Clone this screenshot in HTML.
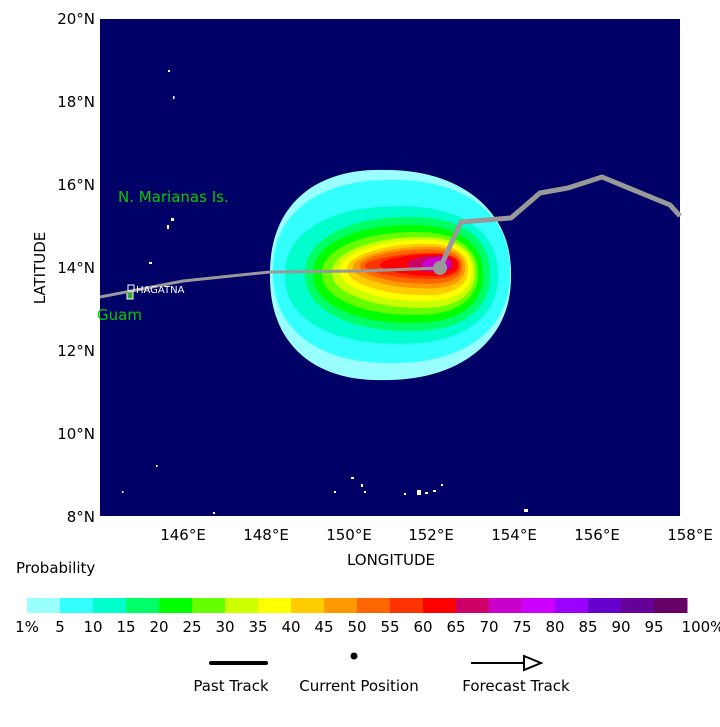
<!DOCTYPE html>
<html><head><meta charset="utf-8"><style>
body{margin:0;background:#fff;width:720px;height:727px;overflow:hidden;font-family:"DejaVu Sans","Liberation Sans",sans-serif}
svg{position:absolute;left:0;top:0}
</style></head><body>
<svg id="s" width="720" height="727" xmlns="http://www.w3.org/2000/svg" font-family="DejaVu Sans, Liberation Sans, sans-serif">
<rect x="100" y="19" width="580" height="497" fill="#000066"/>
<g id="blob"></g>
<g fill="#fff">
<rect x="168" y="70" width="2" height="2"/><rect x="173" y="96" width="1.5" height="3"/>
<rect x="171" y="218" width="3" height="3"/><rect x="167" y="225" width="2" height="4"/>
<rect x="149" y="262" width="3" height="2"/><rect x="156" y="465" width="1.5" height="2"/>
<rect x="122" y="491" width="1.5" height="2"/><rect x="351" y="477" width="3" height="2"/>
<rect x="334" y="491" width="2" height="2"/><rect x="361" y="484" width="2" height="3"/>
<rect x="364" y="491" width="2" height="2"/><rect x="404" y="493" width="2" height="2"/>
<rect x="417" y="490" width="4" height="5"/><rect x="425" y="492" width="3" height="2"/>
<rect x="433" y="490" width="3" height="2"/><rect x="441" y="484" width="2" height="2"/>
<rect x="524" y="509" width="4" height="3"/><rect x="213" y="512" width="2" height="2"/>
</g>
<rect x="127" y="292" width="6" height="7" fill="#33aa33" stroke="#fff" stroke-width="1"/>
<polyline points="100,297 183,281 270,272 360,271 440,268" fill="none" stroke="#999" stroke-width="3"/>
<polyline points="440,268 461,222 511,218 540,193 568,188 602,177 670,205 680,216" fill="none" stroke="#999" stroke-width="5"/>
<circle cx="440" cy="268" r="7" fill="#999"/>
<rect x="128" y="285" width="6" height="6" fill="none" stroke="#fff" stroke-width="1"/>
<text x="136" y="293" font-size="10" fill="#fff">HAGATNA</text>
<text x="118" y="202" font-size="15" fill="#00cc00">N. Marianas Is.</text>
<text x="97" y="320" font-size="15" fill="#00cc00">Guam</text>
<g font-size="15" fill="#000" text-anchor="end">
<text x="95" y="24">20°N</text><text x="95" y="107">18°N</text><text x="95" y="190">16°N</text>
<text x="95" y="273">14°N</text><text x="95" y="356">12°N</text><text x="95" y="439">10°N</text><text x="95" y="522">8°N</text>
</g>
<g font-size="15" fill="#000" text-anchor="middle">
<text x="183" y="540">146°E</text><text x="266" y="540">148°E</text><text x="349" y="540">150°E</text>
<text x="431" y="540">152°E</text><text x="514" y="540">154°E</text><text x="597" y="540">156°E</text><text x="690" y="540">158°E</text>
<text x="391" y="565">LONGITUDE</text>
<text transform="translate(45,268) rotate(-90)">LATITUDE</text>
</g>
<text x="16" y="573" font-size="15">Probability</text>
<g id="cb"></g>
<line x1="211" y1="663" x2="266" y2="663" stroke="#000" stroke-width="4" stroke-linecap="round"/>
<circle cx="354" cy="656" r="3.5" fill="#000"/>
<line x1="471" y1="663" x2="525" y2="663" stroke="#000" stroke-width="2"/>
<polygon points="524,656 541,663 524,670" fill="none" stroke="#000" stroke-width="2"/>
<g font-size="15" text-anchor="middle">
<text x="231" y="691">Past Track</text><text x="359" y="691">Current Position</text><text x="516" y="691">Forecast Track</text>
</g>
</svg>
<script>
var NS="http://www.w3.org/2000/svg",s=document.getElementById('cb');
var cols=["#99ffff","#33ffff","#00ffcc","#00ff66","#00ff00","#66ff00","#ccff00","#ffff00","#ffcc00","#ff9900","#ff6600","#ff3300","#ff0000","#cc0066","#cc00cc","#cc00ff","#9900ff","#6600cc","#660099","#660066"];
var labs=["1%","5","10","15","20","25","30","35","40","45","50","55","60","65","70","75","80","85","90","95","100%"];
for(var i=0;i<20;i++){var r=document.createElementNS(NS,'rect');r.setAttribute('x',27+i*33);r.setAttribute('y',598);r.setAttribute('width',33.5);r.setAttribute('height',15);r.setAttribute('fill',cols[i]);s.appendChild(r);}
for(var i=0;i<21;i++){var t=document.createElementNS(NS,'text');t.setAttribute('x',i==20?703:27+i*33);t.setAttribute('y',632);t.setAttribute('font-size','15');t.setAttribute('text-anchor','middle');t.textContent=labs[i];s.appendChild(t);}
var L=[[270,170,511,380,-0.05],[273,180,510,363,0],[285,205,498,345,0.05],[305,215,490,333,0.1],[313,223,483,325,0.12],[322,230,478,317,0.15],[332,235,475,310,0.2],[340,238,472,303,0.22],[347,242,468,297,0.25],[353,245,465,290,0.3],[360,248,462,285,0.3],[365,252,460,280,0.35],[380,253,458,277,0.35],[407,255,453,273,0.3],[422,257,450,272,0.2]];
var b=document.getElementById('blob');
L.forEach(function(l,i){var cx=(l[0]+l[2])/2,cy=(l[1]+l[3])/2,a=(l[2]-l[0])/2,h=(l[3]-l[1])/2,k=l[4],p="",q=0.88;
for(var j=0;j<=120;j++){var t=j/120*2*Math.PI,c=Math.cos(t),sn=Math.sin(t);
var x=cx+a*Math.sign(c)*Math.pow(Math.abs(c),q),y=cy+h*Math.sign(sn)*Math.pow(Math.abs(sn),q)*(1+k*c)/(1+Math.max(k,0)*0.4);
p+=(j?"L":"M")+x.toFixed(1)+","+y.toFixed(1);}
var e=document.createElementNS(NS,'path');e.setAttribute('d',p+"Z");e.setAttribute('fill',cols[i]);b.appendChild(e);});
</script>
</body></html>
